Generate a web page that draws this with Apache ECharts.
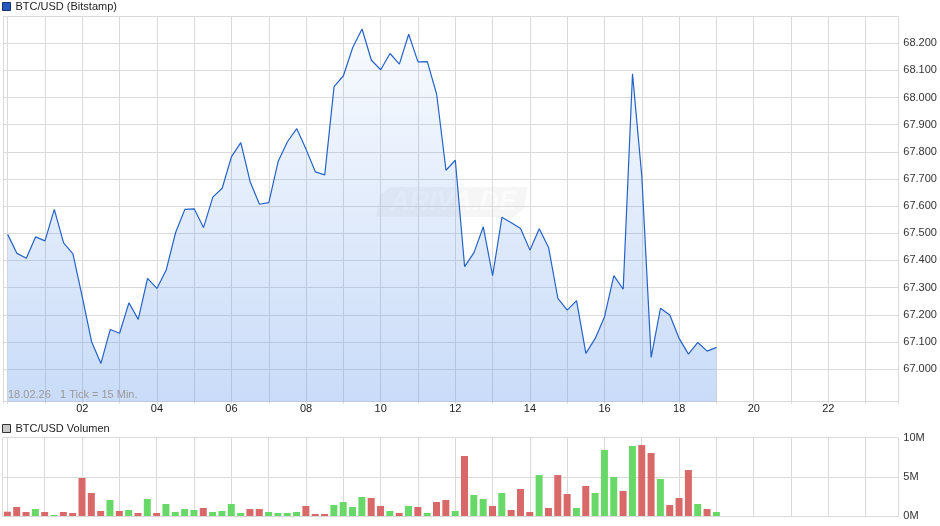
<!DOCTYPE html>
<html><head><meta charset="utf-8">
<script src="https://cdn.jsdelivr.net/npm/echarts@6/dist/echarts.min.js"></script>
<style>html,body{margin:0;padding:0;background:#fff}#c{width:940px;height:526px}</style>
</head><body><div id="c"></div>
<script>
// 15-minute ticks on 18.02.26, 00:00 to 19:00
const times = [];
for (let i = 0; i <= 76; i++) { const m = i * 15; times.push(String(Math.floor(m / 60)).padStart(2, '0') + ':' + String(m % 60).padStart(2, '0')); }

// BTC/USD price (USD)
const price = [
  67496, 67426, 67408, 67487, 67472, 67588, 67465, 67424, 67266, 67101,
  67021, 67146, 67132, 67244, 67183, 67334, 67297, 67365, 67502, 67588,
  67590, 67521, 67633, 67666, 67782, 67834, 67690, 67607, 67613, 67764,
  67837, 67885, 67809, 67726, 67715, 68040, 68080, 68184, 68252, 68137,
  68102, 68162, 68123, 68233, 68131, 68132, 68012, 67732, 67769, 67377,
  67429, 67524, 67344, 67559, 67539, 67518, 67438, 67517, 67448, 67260,
  67217, 67252, 67058, 67113, 67193, 67344, 67294, 68087, 67709, 67043,
  67224, 67199, 67113, 67055, 67098, 67066, 67080
];

// Volume (millions)
const volume = [
  0.55, 1.15, 0.51, 0.89, 0.51, 0.13, 0.51, 0.38, 4.85, 2.94,
  0.64, 2.04, 0.64, 0.77, 0.38, 2.17, 0.38, 1.53, 0.51, 0.89,
  0.77, 1.02, 0.51, 0.64, 1.53, 0.38, 0.89, 0.89, 0.51, 0.38,
  0.38, 0.51, 1.28, 0.26, 0.26, 1.40, 1.79, 1.15, 2.43, 2.30,
  1.28, 0.64, 0.38, 1.28, 1.15, 0.38, 1.79, 2.04, 0.64, 7.66,
  2.68, 2.17, 1.28, 2.94, 0.77, 3.45, 0.51, 5.23, 1.02, 5.23,
  2.81, 1.02, 3.83, 2.94, 8.43, 4.98, 3.19, 8.94, 9.06, 8.04,
  4.72, 1.40, 2.30, 5.87, 1.53, 0.89, 0.51
];

// Tick direction: u = up (green), d = down (red)
const direction = [
  'd','d','d','u','d','u','d','d','d','d',
  'd','u','d','u','d','u','d','u','u','u',
  'u','d','u','u','u','u','d','d','u','u',
  'u','u','d','d','d','u','u','u','u','d',
  'd','u','d','u','d','u','d','d','u','d',
  'u','u','d','u','d','d','d','u','d','d',
  'd','u','d','u','u','u','d','u','d','d',
  'u','d','d','d','u','d','u'
];

const hourLabels = ['02','04','06','08','10','12','14','16','18','20','22'];
const volumeLabels = ['0M','5M','10M'];

const FONT = '"Liberation Sans", Arial, Helvetica, sans-serif';
const GRID = '#dadada';
const RED = '#d96868';
const GREEN = '#68d968';

function hoursOf(t) { const p = t.split(':').map(Number); return p[0] + p[1] / 60; }
function fmtPrice(v) { const r = Math.round(v); return Math.floor(r / 1000) + '.' + String(r % 1000).padStart(3, '0'); }
function isInt(v) { return Math.abs(v - Math.round(v)) < 1e-6; }

const priceSplitColors = [GRID, 'rgba(0,0,0,0)'];
for (let i = 0; i < 14; i++) priceSplitColors.push(GRID);

function hourAxis(gridIndex, showLabels) {
  return {
    type: 'value', gridIndex: gridIndex, min: -0.125, max: 23.875,
    splitNumber: 24, minInterval: 1, maxInterval: 1,
    axisLine: { show: true, lineStyle: { color: GRID, width: 1 } },
    axisTick: { show: showLabels, length: 2, lineStyle: { color: GRID } },
    axisLabel: {
      show: showLabels, color: '#222', fontSize: 11, fontFamily: FONT, margin: 2,
      formatter: function (v) {
        if (!isInt(v)) return '';
        const s = String(Math.round(v)).padStart(2, '0');
        return hourLabels.indexOf(s) >= 0 ? s : '';
      }
    },
    splitLine: { show: true, lineStyle: { color: GRID, width: 1 } }
  };
}

const chart = echarts.init(document.getElementById('c'), null, { renderer: 'canvas' });
chart.setOption({
  animation: false,
  backgroundColor: '#fff',
  textStyle: { fontFamily: FONT },
  grid: [
    { left: 2.7, right: 41.7, top: 16, height: 385.7, containLabel: false },
    { left: 2.7, right: 41.7, top: 437.7, height: 78.3, containLabel: false }
  ],
  legend: [
    {
      left: 2, top: 1, padding: 0, itemWidth: 8, itemHeight: 8, itemGap: 10,
      selectedMode: false, icon: 'rect',
      textStyle: { color: '#222', fontSize: 11, fontFamily: FONT },
      data: [{ name: 'BTC/USD (Bitstamp)', itemStyle: { color: '#2458c0', borderColor: '#17336f', borderWidth: 1 } }]
    },
    {
      left: 2, top: 423, padding: 0, itemWidth: 8, itemHeight: 8,
      selectedMode: false, icon: 'rect',
      textStyle: { color: '#222', fontSize: 11, fontFamily: FONT },
      data: [{ name: 'BTC/USD Volumen', itemStyle: { color: '#c8c8c8', borderColor: '#333', borderWidth: 1 } }]
    }
  ],
  xAxis: [hourAxis(0, true), hourAxis(1, false)],
  yAxis: [
    {
      type: 'value', gridIndex: 0, position: 'right',
      min: 66880, max: 68300, splitNumber: 14, minInterval: 100, maxInterval: 100,
      axisLine: { show: false }, axisTick: { show: false },
      axisLabel: {
        color: '#333', fontSize: 11, fontFamily: FONT, margin: 5,
        formatter: function (v) { return (v >= 66950 && v <= 68250) ? fmtPrice(v) : ''; }
      },
      splitLine: { show: true, lineStyle: { color: priceSplitColors, width: 1 } }
    },
    {
      type: 'value', gridIndex: 1, position: 'right', min: 0, max: 10, interval: 5,
      axisLine: { show: false }, axisTick: { show: false },
      axisLabel: {
        color: '#333', fontSize: 11, fontFamily: FONT, margin: 5,
        formatter: function (v) { return volumeLabels[Math.round(v / 5)] || ''; }
      },
      splitLine: { show: true, lineStyle: { color: GRID, width: 1 } }
    }
  ],
  series: [
    {
      name: 'BTC/USD (Bitstamp)', type: 'line', xAxisIndex: 0, yAxisIndex: 0,
      showSymbol: false, symbol: 'none', smooth: false,
      lineStyle: { color: '#2462c8', width: 1.2 },
      itemStyle: { color: '#2458c0' },
      areaStyle: {
        origin: 'start',
        color: new echarts.graphic.LinearGradient(0, 0, 0, 1, [
          { offset: 0, color: 'rgba(92,148,235,0.05)' },
          { offset: 1, color: 'rgba(92,148,235,0.47)' }
        ])
      },
      data: times.map(function (t, i) { return [hoursOf(t), price[i]]; })
    },
    {
      name: 'BTC/USD Volumen', type: 'bar', xAxisIndex: 1, yAxisIndex: 1,
      barWidth: 7, itemStyle: { color: '#c8c8c8' },
      data: times.map(function (t, i) {
        return { value: [hoursOf(t), volume[i]], itemStyle: { color: direction[i] === 'u' ? GREEN : RED } };
      })
    }
  ],
  graphic: [
    {
      type: 'group', left: 376, top: 187, z: 50, silent: true,
      children: [
        { type: 'polygon', shape: { points: [[12, 0], [150, 0], [146, 22], [136, 30], [-2, 30], [2, 8]] },
          style: { fill: 'rgba(0,0,0,0.035)' } },
        { type: 'text', left: 12, top: 2, style: { text: 'ARIVA.DE', font: 'italic bold 27px ' + FONT, fill: 'rgba(255,255,255,0.6)' } }
      ]
    },
    {
      type: 'text', left: 8, top: 389, z: 50, silent: true,
      style: { text: '18.02.26   1 Tick = 15 Min.', font: '11px ' + FONT, fill: '#9a9a9a' }
    }
  ]
});
</script></body></html>
